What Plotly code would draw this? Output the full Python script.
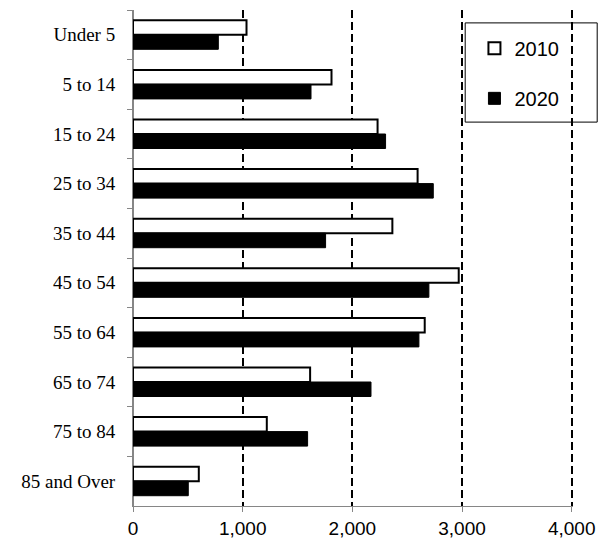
import plotly.graph_objects as go

# Population by age group, 2010 vs 2020
age_groups = ["Under 5", "5 to 14", "15 to 24", "25 to 34", "35 to 44",
              "45 to 54", "55 to 64", "65 to 74", "75 to 84", "85 and Over"]
pop_2010 = [1035, 1810, 2230, 2595, 2365, 2970, 2660, 1615, 1220, 600]
pop_2020 = [778, 1623, 2303, 2738, 1756, 2698, 2607, 2170, 1592, 504]
x_ticks = [0, 1000, 2000, 3000, 4000]
x_tick_text = ["0", "1,000", "2,000", "3,000", "4,000"]

fig = go.Figure()
fig.add_trace(go.Bar(
    y=age_groups, x=pop_2010, orientation="h", name="2010",
    marker=dict(color="white", line=dict(color="black", width=2)),
    legendgroup="a",
))
fig.add_trace(go.Bar(
    y=age_groups, x=pop_2020, orientation="h", name="2020",
    marker=dict(color="black", line=dict(color="black", width=1)),
    legendgroup="b",
))

fig.update_layout(
    width=602, height=543,
    margin=dict(l=133, r=29, t=10, b=37),
    paper_bgcolor="white", plot_bgcolor="white",
    barmode="group", bargap=0.415, bargroupgap=0,
    showlegend=True,
    legend=dict(
        x=0.776, y=0.962, xanchor="left", yanchor="top",
        bgcolor="rgba(0,0,0,0)", borderwidth=0,
        font=dict(family="Liberation Sans", size=20, color="black"),
        traceorder="grouped", tracegroupgap=21, itemwidth=30,
    ),
    shapes=[dict(
        type="rect", xref="paper", yref="paper",
        x0=0.755, x1=1.055, y0=0.774, y1=0.974,
        line=dict(color="black", width=1), fillcolor="rgba(0,0,0,0)",
        layer="above",
    )],
)

fig.update_xaxes(
    range=[0, 4012], tickvals=x_ticks, ticktext=x_tick_text,
    showgrid=True, gridcolor="black", gridwidth=2, griddash="8px,4px",
    zeroline=True, zerolinecolor="#868686", zerolinewidth=1,
    showline=True, linecolor="#868686", linewidth=1,
    ticks="outside", ticklen=5, tickcolor="#868686",
    tickfont=dict(family="Liberation Sans", size=19, color="black"),
    ticklabelstandoff=0, automargin=False,
)
fig.update_yaxes(
    autorange="reversed", type="category",
    showgrid=False, zeroline=False,
    showline=True, linecolor="#868686", linewidth=1,
    ticks="outside", ticklen=5, tickcolor="#868686", tickson="boundaries",
    tickfont=dict(family="Liberation Serif", size=19, color="black"),
    ticklabelstandoff=13, automargin=False,
)

fig.write_html("out.html")
